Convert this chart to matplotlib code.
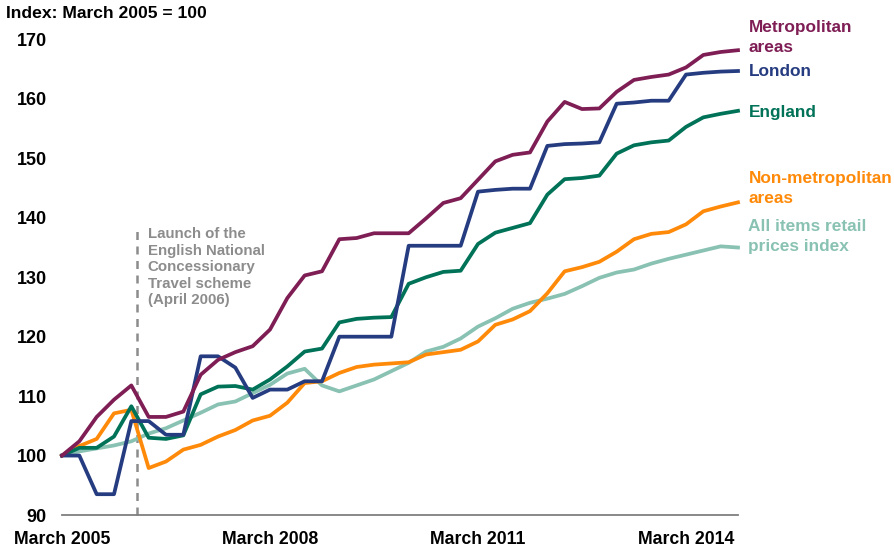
import matplotlib
matplotlib.use("Agg")
import matplotlib.pyplot as plt

plt.rcParams['font.family'] = ['Liberation Sans', 'DejaVu Sans']
plt.rcParams['font.weight'] = 'bold'

# Quarterly periods, March 2005 .. December 2014
quarters = list(range(40))
tick_positions = [0, 12, 24, 36]
tick_labels = ["March 2005", "March 2008", "March 2011", "March 2014"]

metropolitan = [100, 102.4, 106.5, 109.4, 111.8, 106.5, 106.5, 107.4, 113.6, 116.1,
                117.4, 118.4, 121.2, 126.5, 130.3, 131.0, 136.4, 136.6, 137.4, 137.4,
                137.4, 139.9, 142.5, 143.3, 146.4, 149.5, 150.6, 151.0, 156.2, 159.5,
                158.3, 158.4, 161.2, 163.2, 163.7, 164.1, 165.3, 167.4, 167.9, 168.2]
london = [100, 100, 93.5, 93.5, 105.8, 105.8, 103.5, 103.5, 116.7, 116.7,
          114.8, 109.7, 111.1, 111.1, 112.5, 112.5, 120.0, 120.0, 120.0, 120.0,
          135.3, 135.3, 135.3, 135.3, 144.4, 144.7, 144.9, 144.9, 152.1, 152.4,
          152.5, 152.7, 159.2, 159.4, 159.7, 159.7, 164.1, 164.4, 164.6, 164.7]
england = [100, 101.3, 101.3, 103.2, 108.3, 103.0, 102.8, 103.4, 110.3, 111.6,
           111.7, 111.1, 112.8, 115.0, 117.5, 118.0, 122.4, 123.0, 123.2, 123.3,
           128.9, 130.0, 130.9, 131.1, 135.6, 137.5, 138.3, 139.1, 143.9, 146.5,
           146.7, 147.1, 150.8, 152.2, 152.7, 153.0, 155.3, 156.9, 157.5, 158.0]
non_metropolitan = [100, 101.6, 102.8, 107.1, 107.7, 97.9, 99.0, 101.0, 101.8, 103.2,
                    104.3, 105.9, 106.7, 108.9, 112.2, 112.5, 113.9, 114.9, 115.3, 115.5,
                    115.7, 117.0, 117.4, 117.8, 119.2, 122.0, 122.9, 124.3, 127.3, 131.0,
                    131.7, 132.6, 134.3, 136.4, 137.3, 137.6, 138.9, 141.1, 141.9, 142.6]
rpi = [100, 100.7, 101.2, 101.7, 102.4, 103.7, 104.6, 105.9, 107.2, 108.6,
       109.1, 110.5, 111.9, 113.8, 114.6, 111.8, 110.8, 111.8, 112.8, 114.2,
       115.6, 117.5, 118.3, 119.7, 121.7, 123.1, 124.7, 125.7, 126.4, 127.2,
       128.5, 129.9, 130.8, 131.3, 132.3, 133.1, 133.8, 134.5, 135.2, 135.0]

names = ["Metropolitan\nareas", "London", "England",
         "Non-metropolitan\nareas", "All items retail\nprices index"]
values = [metropolitan, london, england, non_metropolitan, rpi]
colors = ["#7e1e55", "#263c80", "#007258", "#ff8a0a", "#89c2b2"]
label_y = [170.3, 164.7, 157.7, 144.9, 136.9]

fig = plt.figure(figsize=(8.95, 5.48), dpi=100)
ax = fig.add_axes([62/895, 1 - 515/548, (738 - 62)/895, (515 - 39.5)/548])

launch_pos = 4.35
ax.plot([launch_pos, launch_pos], [90, 138.2], color="#8c8c8c", lw=1.8,
        ls=(0, (3.2, 2.6)), zorder=1, clip_on=False)

for vals, col in zip(values[::-1], colors[::-1]):
    ax.plot(quarters, vals, color=col, lw=2.7, solid_joinstyle='round', zorder=2,
            clip_on=False)

for name, col, ly in zip(names, colors, label_y):
    ax.text(39.6, ly, name, color=col, fontsize=12.4, fontweight='bold',
            ha='left', va='center', linespacing=1.4)

ax.text(4.95, 138.4, "Launch of the\nEnglish National\nConcessionary\nTravel scheme\n(April 2006)",
        color="#8c8c8c", fontsize=10.8, fontweight='bold', ha='left', va='top',
        linespacing=1.22)

ax.set_xlim(0, 39)
ax.set_ylim(90, 170)
ax.set_yticks(range(90, 171, 10))
ax.set_xticks(tick_positions)
ax.set_xticklabels(tick_labels)
ax.tick_params(axis='y', length=0, pad=11, labelsize=13)
ax.tick_params(axis='x', length=0, pad=11.5, labelsize=12.7)
for lab in ax.get_yticklabels() + ax.get_xticklabels():
    lab.set_fontweight('bold')

for s in ['top', 'right', 'left']:
    ax.spines[s].set_visible(False)
ax.spines['bottom'].set_color('#7f7f7f')
ax.spines['bottom'].set_linewidth(1.3)

fig.text(6/895, 1 - 13/548, "Index: March 2005 = 100", fontsize=12.6, fontweight='bold',
         ha='left', va='center')

fig.savefig("out.png", dpi=100)
